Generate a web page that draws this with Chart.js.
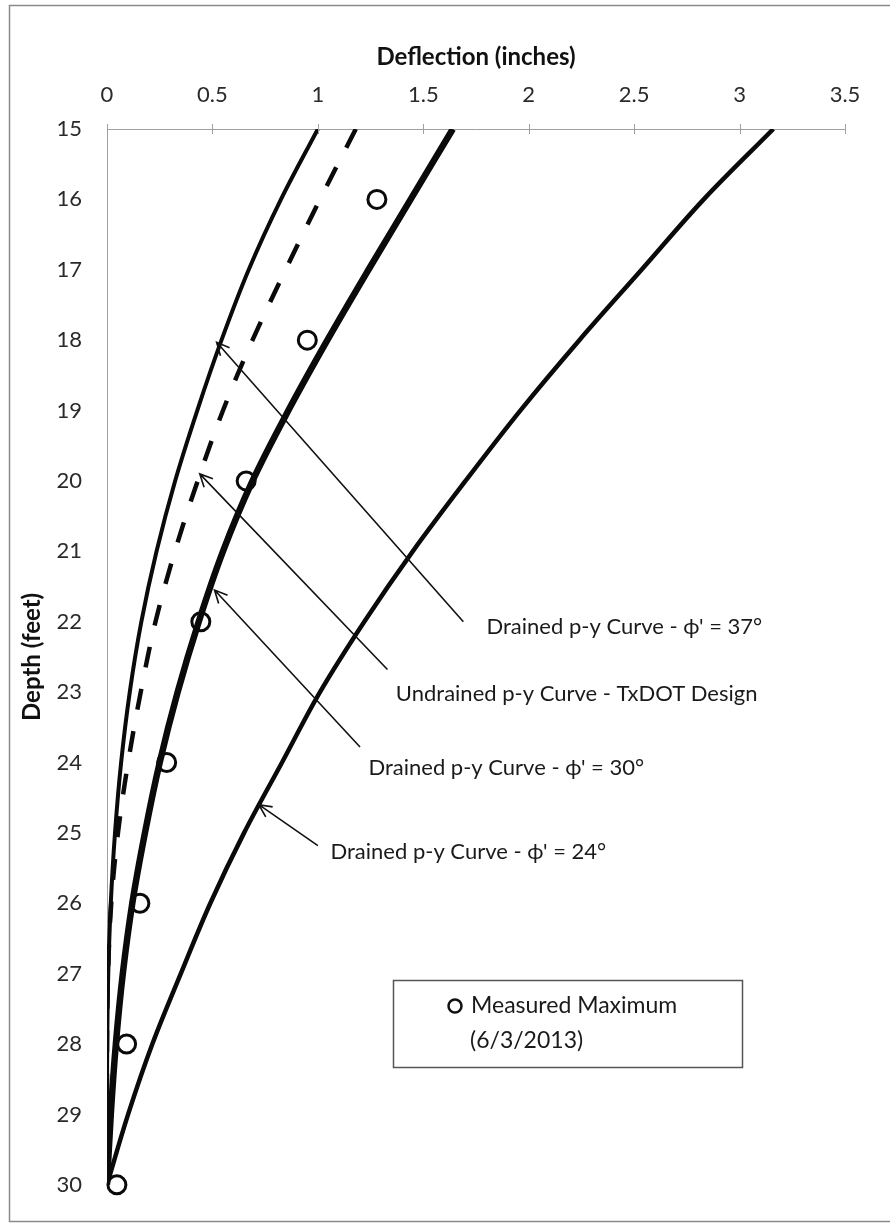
<!DOCTYPE html>
<html>
<head>
<meta charset="utf-8">
<title>Deflection vs depth</title>
<script src="https://cdn.jsdelivr.net/npm/chart.js@4/dist/chart.umd.min.js"></script>
<style>
  html, body { margin: 0; padding: 0; background: #fff; }
  #wrap { width: 890px; height: 1223px; }
</style>
</head>
<body>
<div id="wrap"><canvas id="deflChart" width="890" height="1223"></canvas></div>
<script>
// depth below top of shaft (feet), shared by all computed p-y curves
const depths = [15, 16, 17, 18, 19, 20, 21, 22, 23, 24, 25, 26, 27, 28, 29, 30];

// deflection (inches) for each curve
const drained37 = [1.00, 0.825, 0.672, 0.543, 0.428, 0.323, 0.235, 0.163, 0.108, 0.067, 0.038, 0.018, 0.006, 0.001, 0, 0];
const undrainedTxDOT = [1.18, 1.01, 0.847, 0.69, 0.55, 0.43, 0.322, 0.23, 0.16, 0.10, 0.052, 0.02, 0.005, 0, 0, 0];
const drained30 = [1.64, 1.44, 1.24, 1.045, 0.86, 0.69, 0.55, 0.435, 0.335, 0.25, 0.18, 0.12, 0.075, 0.042, 0.018, 0];
const drained24 = [3.16, 2.83, 2.535, 2.24, 1.96, 1.70, 1.45, 1.22, 1.01, 0.83, 0.65, 0.49, 0.35, 0.215, 0.10, 0];

// measured maximum deflection, 6/3/2013
const measuredDepth = [16, 18, 20, 22, 24, 26, 28, 30];
const measuredDefl = [1.28, 0.95, 0.66, 0.445, 0.283, 0.156, 0.093, 0.047];

// tick labels
const deflTicks = [0, 0.5, 1, 1.5, 2, 2.5, 3, 3.5];
const depthTicks = [15, 16, 17, 18, 19, 20, 21, 22, 23, 24, 25, 26, 27, 28, 29, 30];

// callout labels: dataset index, arrow tip / tail and text anchor in data units
const callouts = [
  { ds: 1, tip: [0.52, 18.03], tail: [1.69, 22.0], text: [1.80, 22.08] },
  { ds: 2, tip: [0.44, 19.90], tail: [1.33, 22.68], text: [1.37, 23.03] },
  { ds: 3, tip: [0.51, 21.55], tail: [1.20, 23.78], text: [1.24, 24.08] },
  { ds: 4, tip: [0.72, 24.60], tail: [1.00, 25.18], text: [1.06, 25.27] }
];

const FONT = "Lato, 'DejaVu Sans', sans-serif";

function toPoints(xs, ys) {
  return xs.map((v, i) => ({ x: v, y: ys[i] }));
}

function curve(label, values, width, dash) {
  return {
    label: label,
    data: toPoints(values, depths),
    showLine: true,
    borderColor: '#0a0a0a',
    borderWidth: width,
    borderDash: dash || [],
    pointRadius: 0,
    pointHoverRadius: 0,
    tension: 0.35,
    fill: false
  };
}

// frame, cross ticks, callouts and the legend box
const decorPlugin = {
  id: 'decor',
  beforeDraw(chart) {
    const c = chart.ctx;
    c.save();
    c.fillStyle = '#fff';
    c.fillRect(0, 0, chart.width, chart.height);
    c.restore();
  },
  afterDraw(chart) {
    const c = chart.ctx;
    const xs = chart.scales.x, ys = chart.scales.y;
    const area = chart.chartArea;
    c.save();

    // outer frame
    c.strokeStyle = '#8a8a8a';
    c.lineWidth = 1.5;
    c.strokeRect(9.5, 5.5, 900, 1216);

    // cross tick marks on the deflection axis
    c.strokeStyle = '#a0a0a0';
    c.lineWidth = 1;
    deflTicks.forEach(v => {
      const px = Math.round(xs.getPixelForValue(v)) + 0.5;
      c.beginPath();
      c.moveTo(px, area.top - 5);
      c.lineTo(px, area.top + 5);
      c.stroke();
    });

    // callouts
    c.strokeStyle = '#111';
    c.fillStyle = '#1a1a1a';
    c.lineWidth = 1.6;
    c.font = '22px ' + FONT;
    c.textBaseline = 'middle';
    c.textAlign = 'left';
    callouts.forEach(k => {
      const tx = xs.getPixelForValue(k.tip[0]), ty = ys.getPixelForValue(k.tip[1]);
      const sx = xs.getPixelForValue(k.tail[0]), sy = ys.getPixelForValue(k.tail[1]);
      c.beginPath();
      c.moveTo(sx, sy);
      c.lineTo(tx, ty);
      const ang = Math.atan2(sy - ty, sx - tx);
      const len = 14, spread = 0.45;
      c.moveTo(tx + len * Math.cos(ang - spread), ty + len * Math.sin(ang - spread));
      c.lineTo(tx, ty);
      c.lineTo(tx + len * Math.cos(ang + spread), ty + len * Math.sin(ang + spread));
      c.stroke();
      c.fillText(chart.data.datasets[k.ds].label,
        xs.getPixelForValue(k.text[0]), ys.getPixelForValue(k.text[1]));
    });

    // legend box for the measured points
    const bx = 393, by = 980, bw = 349, bh = 87;
    c.strokeStyle = '#555';
    c.lineWidth = 1.5;
    c.strokeRect(bx + 0.5, by + 0.5, bw, bh);
    c.beginPath();
    c.lineWidth = 2.5;
    c.strokeStyle = '#111';
    c.arc(bx + 62, by + 26, 6.5, 0, Math.PI * 2);
    c.stroke();
    c.font = '23px ' + FONT;
    const lines = chart.data.datasets[0].label.split('\n');
    c.fillText(lines[0], bx + 78, by + 26);
    c.fillText(lines[1], bx + 77, by + 61);
    c.restore();
  }
};

const ctx = document.getElementById('deflChart').getContext('2d');
const deflChart = new Chart(ctx, {
  type: 'scatter',
  data: {
    datasets: [
      {
        label: 'Measured Maximum\n(6/3/2013)',
        data: toPoints(measuredDefl, measuredDepth),
        showLine: false,
        clip: false,
        pointStyle: 'circle',
        pointRadius: 9,
        pointHoverRadius: 9,
        pointBorderWidth: 3,
        pointBorderColor: '#0a0a0a',
        pointBackgroundColor: 'rgba(255,255,255,0)',
        borderColor: '#0a0a0a'
      },
      curve("Drained p-y Curve - \u03D5' = 37\u00B0", drained37, 4),
      curve('Undrained p-y Curve - TxDOT Design', undrainedTxDOT, 4.5, [21, 22]),
      curve("Drained p-y Curve - \u03D5' = 30\u00B0", drained30, 6.5),
      curve("Drained p-y Curve - \u03D5' = 24\u00B0", drained24, 4.5)
    ]
  },
  options: {
    responsive: false,
    animation: false,
    devicePixelRatio: 1,
    layout: { padding: { left: 0, top: 0, right: 45, bottom: 22 } },
    plugins: {
      legend: { display: false },
      tooltip: { enabled: false }
    },
    scales: {
      x: {
        type: 'linear',
        position: 'top',
        min: 0,
        max: 3.5,
        afterBuildTicks: s => { s.ticks = deflTicks.map(v => ({ value: v })); },
        afterFit: s => { s.height = 129; },
        grid: { display: false, drawTicks: false },
        border: { display: true, color: '#a0a0a0', width: 1 },
        ticks: {
          padding: 21,
          color: '#2a2a2a',
          font: { family: FONT, size: 22 },
          callback: v => String(v)
        },
        title: {
          display: true,
          text: 'Deflection (inches)',
          color: '#111',
          font: { family: FONT, size: 24, weight: 'bold' },
          padding: { top: 43, bottom: 0 }
        }
      },
      y: {
        type: 'linear',
        reverse: true,
        min: 15,
        max: 30,
        afterBuildTicks: s => { s.ticks = depthTicks.map(v => ({ value: v })); },
        afterFit: s => { s.width = 107; },
        grid: { display: false, drawTicks: false },
        border: { display: true, color: '#a0a0a0', width: 1 },
        ticks: {
          padding: 25,
          color: '#2a2a2a',
          font: { family: FONT, size: 22 },
          callback: v => String(v)
        },
        title: {
          display: true,
          text: 'Depth (feet)',
          color: '#111',
          font: { family: FONT, size: 24, weight: 'bold' },
          padding: { top: 18, bottom: 0 }
        }
      }
    }
  },
  plugins: [decorPlugin]
});
</script>
</body>
</html>
